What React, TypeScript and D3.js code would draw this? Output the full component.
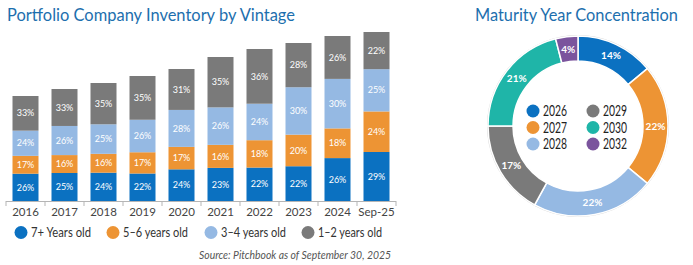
import React from "react";
import * as d3 from "d3";

// Vintage inventory: share of portfolio companies by holding age
const vintages = ["2016", "2017", "2018", "2019", "2020", "2021", "2022", "2023", "2024", "Sep-25"];
const inventoryTotals = [105, 112, 118, 125, 132, 144, 152, 158, 165, 169];
const pct7Plus = [26, 25, 24, 22, 24, 23, 22, 22, 26, 29];
const pct5to6 = [17, 16, 16, 17, 17, 16, 18, 20, 18, 24];
const pct3to4 = [24, 26, 25, 26, 28, 26, 24, 30, 30, 25];
const pct1to2 = [33, 33, 35, 35, 31, 35, 36, 28, 26, 22];
const ageSeries = ["7+ Years old", "5–6 years old", "3–4 years old", "1–2 years old"];

// Maturity year concentration
const maturityYears = ["2026", "2027", "2028", "2029", "2030", "2032"];
const maturityShares = [14, 22, 22, 17, 21, 4];

const ageColors = ["#0b71c1", "#ed9434", "#95b9e3", "#7a7a7a"];
const yearColors = ["#0b71c1", "#ed9434", "#95b9e3", "#7a7a7a", "#1fb5a8", "#7b549d"];

const FONT = "Lato, 'Open Sans', sans-serif";
const TITLE_BLUE = "#1d6fae";

export default function App() {
  const W = 693;
  const H = 265;

  // ---- stacked bars ----
  const baseY = 201;
  const x = d3
    .scaleBand<string>()
    .domain(vintages)
    .range([6, 396])
    .paddingInner(1 / 3)
    .paddingOuter(1 / 6);
  const y = d3.scaleLinear().domain([0, 170]).range([baseY, baseY - 170]);

  const rows = vintages.map((v, i) => ({
    vintage: v,
    total: inventoryTotals[i],
    s0: pct7Plus[i],
    s1: pct5to6[i],
    s2: pct3to4[i],
    s3: pct1to2[i],
  }));
  const keys = ["s0", "s1", "s2", "s3"];
  const stack = d3
    .stack<any>()
    .keys(keys)
    .value((d: any, k: string) => (d[k] / 100) * d.total);
  const layers = stack(rows);
  const pctBySeries = [pct7Plus, pct5to6, pct3to4, pct1to2];

  // tick marks sit on the boundaries between categories
  const boundaries = [
    x.range()[0],
    ...vintages.map((v) => (x(v) as number) + x.bandwidth() + (x.step() - x.bandwidth()) / 2),
  ];

  // ---- donut ----
  const cx = 578;
  const cy = 126;
  const rOuter = 90;
  const rInner = 65;
  const pie = d3
    .pie<number>()
    .sort(null)
    .value((d) => d);
  const arcs = pie(maturityShares);
  const arcGen = d3.arc<d3.PieArcDatum<number>>().innerRadius(rInner).outerRadius(rOuter);

  const legendXs = [16, 108, 206, 303];
  const legendWidths = [60, 65, 65, 64];

  return (
    <svg
      width={W}
      height={H}
      style={{ position: "absolute", left: 0, top: 0, background: "#fff" }}
      fontFamily={FONT}
    >
      {/* Bar chart title */}
      <text x={7} y={21} fontSize={17.5} fill={TITLE_BLUE} textLength={288} lengthAdjust="spacingAndGlyphs">
        Portfolio Company Inventory by Vintage
      </text>

      {/* Stacked bars */}
      {layers.map((layer, li) => (
        <g key={li}>
          {layer.map((seg, i) => {
            const y0 = y(seg[0]);
            const y1 = y(seg[1]);
            const bx = x(vintages[i]) as number;
            return (
              <g key={i}>
                <rect x={bx} y={y1} width={x.bandwidth()} height={y0 - y1} fill={ageColors[li]} />
                <text
                  x={bx + x.bandwidth() / 2}
                  y={(y0 + y1) / 2}
                  dy="0.35em"
                  textAnchor="middle"
                  fontSize={9}
                  fill="#fff"
                >
                  {pctBySeries[li][i]}%
                </text>
              </g>
            );
          })}
        </g>
      ))}

      {/* Category axis */}
      <line x1={6} x2={396} y1={baseY + 0.5} y2={baseY + 0.5} stroke="#b5b5b5" strokeWidth={1} />
      {boundaries.map((bx, i) => (
        <line key={i} x1={bx} x2={bx} y1={baseY} y2={baseY + 5} stroke="#b5b5b5" strokeWidth={1} />
      ))}
      {vintages.map((v) => (
        <text
          key={v}
          x={(x(v) as number) + x.bandwidth() / 2}
          y={216}
          textAnchor="middle"
          fontSize={11.5}
          fill="#444"
        >
          {v}
        </text>
      ))}

      {/* Bar legend */}
      {ageSeries.map((s, i) => (
        <g key={s}>
          <circle cx={legendXs[i] + 5} cy={232.5} r={6.5} fill={ageColors[i]} />
          <text
            x={legendXs[i] + 15}
            y={237}
            fontSize={14}
            fill="#333"
            textLength={legendWidths[i]}
            lengthAdjust="spacingAndGlyphs"
          >
            {s}
          </text>
        </g>
      ))}

      {/* Source note */}
      <text
        x={391}
        y={258.5}
        textAnchor="end"
        fontSize={10.5}
        fontStyle="italic"
        fill="#555"
        textLength={192}
        lengthAdjust="spacingAndGlyphs"
      >
        Source: Pitchbook as of September 30, 2025
      </text>

      {/* Donut title */}
      <text x={475} y={20.5} fontSize={17.5} fill={TITLE_BLUE} textLength={203} lengthAdjust="spacingAndGlyphs">
        Maturity Year Concentration
      </text>

      {/* Donut */}
      <g transform={`translate(${cx},${cy})`}>
        <circle r={rOuter + 0.5} fill="none" stroke="#d4d4d4" strokeWidth={1} />
        {arcs.map((a, i) => (
          <path key={i} d={arcGen(a) as string} fill={yearColors[i]} stroke="#fff" strokeWidth={1.5} />
        ))}
        {arcs.map((a, i) => {
          const [lx, ly] = arcGen.centroid(a);
          return (
            <text
              key={`l${i}`}
              x={lx}
              y={ly}
              dy="0.35em"
              textAnchor="middle"
              fontSize={10}
              fontWeight="bold"
              fill="#fff"
            >
              {maturityShares[i]}%
            </text>
          );
        })}
      </g>

      {/* Donut legend */}
      {maturityYears.map((yr, i) => {
        const col = Math.floor(i / 3);
        const row = i % 3;
        const lx = col === 0 ? 533 : 593;
        const ly = 111 + row * 16.5;
        return (
          <g key={yr}>
            <circle cx={lx} cy={ly} r={6.5} fill={yearColors[i]} />
            <text
              x={lx + 10}
              y={ly + 5}
              fontSize={14.5}
              fill="#222"
              textLength={24}
              lengthAdjust="spacingAndGlyphs"
            >
              {yr}
            </text>
          </g>
        );
      })}
    </svg>
  );
}
